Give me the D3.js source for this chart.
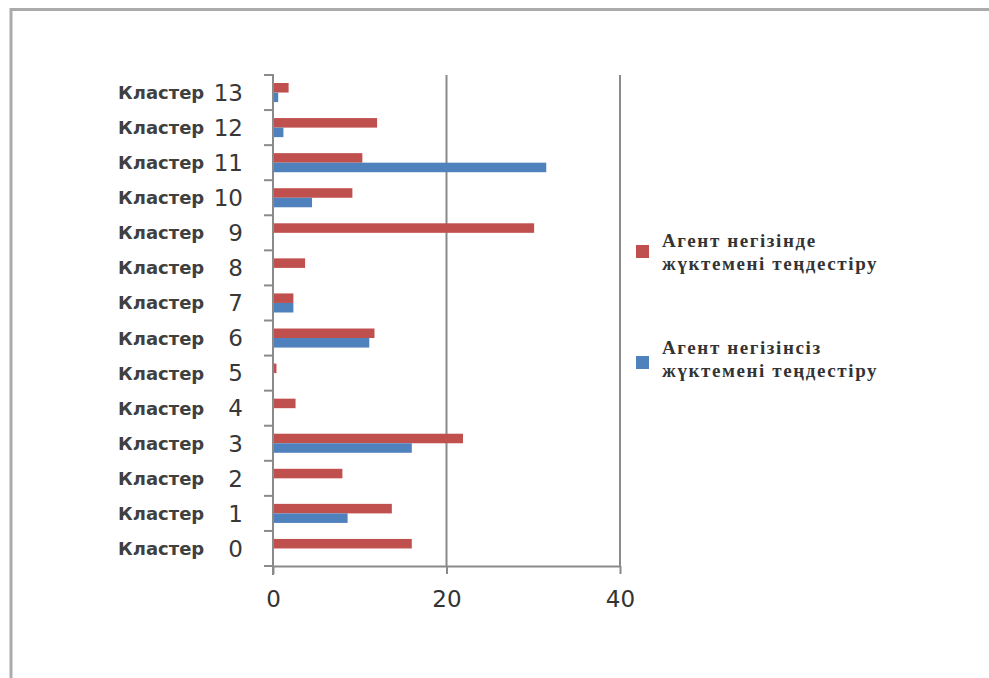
<!DOCTYPE html>
<html>
<head>
<meta charset="utf-8">
<script src="https://cdn.jsdelivr.net/npm/d3@7/dist/d3.min.js"></script>
<style>
  html, body { margin: 0; padding: 0; background: #fff; }
  svg { display: block; }
</style>
</head>
<body>
<script>
// ---- data ----
const clusters = ["0","1","2","3","4","5","6","7","8","9","10","11","12","13"];
const clusterWord = "Кластер";
const seriesNames = ["Агент негізінде жүктемені теңдестіру", "Агент негізінсіз жүктемені теңдестіру"];
const legendLines1 = ["Агент негізінде", "жүктемені теңдестіру"];
const legendLines2 = ["Агент негізінсіз", "жүктемені теңдестіру"];
const agentBased = [16.0, 13.7, 8.0, 21.9, 2.6, 0.4, 11.7, 2.35, 3.7, 30.1, 9.15, 10.3, 12.0, 1.8];
const nonAgent   = [0, 8.6, 0, 16.0, 0, 0, 11.1, 2.35, 0, 0, 4.5, 31.5, 1.2, 0.6];
const xTicks = [0, 20, 40];
const seriesColors = ["#C0504D", "#4F81BD"];

const W = 989, H = 678;
const svg = d3.select("body").append("svg").attr("width", W).attr("height", H);

// frame
svg.append("rect").attr("x", 11).attr("y", 9.5).attr("width", 1100).attr("height", 800)
  .attr("fill", "none").attr("stroke", "#ababab").attr("stroke-width", 3);

const x = d3.scaleLinear().domain([0, 40]).range([273, 620]);
const y = d3.scaleBand().domain(clusters.slice().reverse()).range([75, 566]).padding(0);
const ySub = d3.scaleBand().domain([0, 1]).range([0, y.bandwidth()]).paddingInner(0).paddingOuter(0.84);

const axisColor = "#8a8a8a";

// gridlines
svg.append("g").selectAll("line").data(xTicks.filter(t => t > 0)).join("line")
  .attr("x1", d => x(d)).attr("x2", d => x(d))
  .attr("y1", 75).attr("y2", 566)
  .attr("stroke", axisColor).attr("stroke-width", 2);

// bars
const data = clusters.map((c, i) => ({c, vals: [agentBased[i], nonAgent[i]]}));
const groups = svg.append("g").selectAll("g").data(data).join("g")
  .attr("transform", d => `translate(0,${y(d.c)})`);
groups.selectAll("rect").data(d => d.vals.map((v, k) => ({v, k}))).join("rect")
  .attr("x", x(0))
  .attr("y", d => ySub(d.k))
  .attr("width", d => Math.max(0, x(d.v) - x(0)))
  .attr("height", ySub.bandwidth())
  .attr("fill", d => seriesColors[d.k]);

// x axis
const xAxis = d3.axisBottom(x).tickValues(xTicks).tickSize(8).tickPadding(17).tickSizeOuter(0);
const gx = svg.append("g").attr("transform", "translate(0,566)").call(xAxis);
gx.select(".domain").attr("stroke", axisColor).attr("stroke-width", 2);
gx.selectAll(".tick line").attr("stroke", axisColor).attr("stroke-width", 2);
gx.selectAll(".tick text").attr("font-family", "'DejaVu Sans', Verdana, sans-serif")
  .attr("font-size", 23).attr("fill", "#333");

// y axis line
svg.append("line").attr("x1", x(0)).attr("x2", x(0)).attr("y1", 74).attr("y2", 575)
  .attr("stroke", axisColor).attr("stroke-width", 2);
// y ticks at band boundaries
const bounds = clusters.map(c => y(c)).concat([y.range()[1]]);
svg.append("g").selectAll("line").data(bounds).join("line")
  .attr("x1", x(0) - 9).attr("x2", x(0)).attr("y1", d => d).attr("y2", d => d)
  .attr("stroke", axisColor).attr("stroke-width", 2);

// y labels
const lab = svg.append("g").selectAll("g").data(clusters).join("g")
  .attr("transform", d => `translate(0,${y(d) + y.bandwidth() / 2})`);
lab.append("text").attr("x", 118).attr("dy", "0.36em")
  .attr("font-family", "'DejaVu Sans', Verdana, sans-serif").attr("font-weight", "bold")
  .attr("font-size", 18).attr("fill", "#404040").text(clusterWord);
lab.append("text").attr("x", 243).attr("dy", "0.36em").attr("text-anchor", "end")
  .attr("font-family", "'DejaVu Sans', Verdana, sans-serif")
  .attr("font-size", 23).attr("fill", "#383838").text(d => d);

// legend
const legend = [
  {lines: legendLines1, color: seriesColors[0], sq: 245, ty: 240},
  {lines: legendLines2, color: seriesColors[1], sq: 356, ty: 347}
];
const lg = svg.append("g").selectAll("g").data(legend).join("g");
lg.append("rect").attr("x", 636).attr("y", d => d.sq).attr("width", 13).attr("height", 13)
  .attr("fill", d => d.color);
lg.each(function(d) {
  const t = d3.select(this).append("text")
    .attr("font-family", "'Liberation Serif', 'Times New Roman', serif")
    .attr("font-weight", "bold").attr("font-size", 19).attr("letter-spacing", 1.6)
    .attr("fill", "#333");
  d.lines.forEach((l, i) => {
    t.append("tspan").attr("x", 662).attr("y", d.ty + i * 23).attr("dy", "0.35em").text(l);
  });
});
</script>
</body>
</html>
